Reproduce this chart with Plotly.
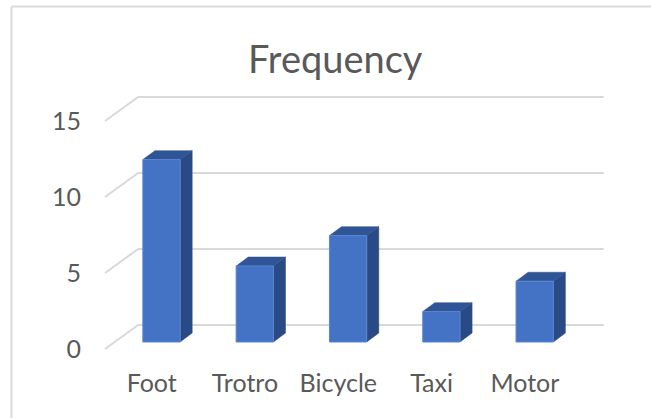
import plotly.graph_objects as go

# ---- data ----
categories = ["Foot", "Trotro", "Bicycle", "Taxi", "Motor"]
values = [12, 5, 7, 2, 4]
y_ticks = [0, 5, 10, 15]
y_tick_labels = ["0", "5", "10", "15"]
title_text = "Frequency"

# ---- pseudo-3D geometry (data units) ----
BAR_W = 0.4
BAR_DX, BAR_DY = 0.129, 0.59        # bar depth
FRONT_DX, FRONT_DY = -0.105, -0.46  # floor front edge relative to bar plane
BACK_DX, BACK_DY = 0.25, 1.12       # back wall relative to bar plane
LEFT_EDGE, RIGHT_EDGE = -0.5, 4.49

FRONT_C = "#4472C4"
TOP_C = "#2F5597"
SIDE_C = "#2A4A85"
GRID_C = "#D9D9D9"
TEXT_C = "#595959"
FONT = "Lato"

# pixel layout
W, H = 651, 418
ML, MR, MT, MB = 104, 47, 91, 67
PX_CAT, PX_UNIT = 93.3, 15.2
X0_PX, Y0_PX = 161.5, 342.0
pw, ph = W - ML - MR, H - MT - MB
x_range = [(ML - X0_PX) / PX_CAT, (ML + pw - X0_PX) / PX_CAT]
y_range = [(Y0_PX - (MT + ph)) / PX_UNIT, (Y0_PX - MT) / PX_UNIT]

fig = go.Figure()

# gridlines: left diagonals + back wall
gx, gy = [], []
for t in y_ticks:
    gx += [LEFT_EDGE + FRONT_DX, LEFT_EDGE + BACK_DX, RIGHT_EDGE + BACK_DX, None]
    gy += [t + FRONT_DY, t + BACK_DY, t + BACK_DY, None]
fig.add_trace(go.Scatter(x=gx, y=gy, mode="lines",
                         line=dict(color=GRID_C, width=2), hoverinfo="skip"))

xs = list(range(len(categories)))

# side faces
sx, sy = [], []
for c, v in zip(xs, values):
    r = c + BAR_W / 2
    sx += [r, r, r + BAR_DX, r + BAR_DX, r, None]
    sy += [0, v, v + BAR_DY, BAR_DY, 0, None]
fig.add_trace(go.Scatter(x=sx, y=sy, mode="lines", fill="toself",
                         fillcolor=SIDE_C, line=dict(color=SIDE_C, width=0.5),
                         hoverinfo="skip"))
# top faces
tx, ty = [], []
for c, v in zip(xs, values):
    l, r = c - BAR_W / 2, c + BAR_W / 2
    tx += [l, r, r + BAR_DX, l + BAR_DX, l, None]
    ty += [v, v, v + BAR_DY, v + BAR_DY, v, None]
fig.add_trace(go.Scatter(x=tx, y=ty, mode="lines", fill="toself",
                         fillcolor=TOP_C, line=dict(color=TOP_C, width=0.5),
                         hoverinfo="skip"))
# front faces (drawn as filled shapes so they sit above the gridlines)
fx, fy = [], []
for c, v in zip(xs, values):
    l, r = c - BAR_W / 2, c + BAR_W / 2
    fx += [l, r, r, l, l, None]
    fy += [0, 0, v, v, 0, None]
fig.add_trace(go.Scatter(x=fx, y=fy, mode="lines", fill="toself",
                         fillcolor=FRONT_C, line=dict(color="#5B86D0", width=1),
                         hoverinfo="skip"))

# frame (chart area border, partially visible)
def px_to_paper_x(px):
    return (px - ML) / pw

def px_to_paper_y(py):
    return (MT + ph - py) / ph

fig.add_shape(type="line", xref="paper", yref="paper",
              x0=px_to_paper_x(11.5), x1=px_to_paper_x(11.5),
              y0=px_to_paper_y(6.5), y1=px_to_paper_y(H + 2),
              line=dict(color=GRID_C, width=2))
fig.add_shape(type="line", xref="paper", yref="paper",
              x0=px_to_paper_x(11.5), x1=px_to_paper_x(W + 2),
              y0=px_to_paper_y(6.5), y1=px_to_paper_y(6.5),
              line=dict(color=GRID_C, width=2))

fig.add_annotation(text=title_text, xref="paper", yref="paper",
                   x=px_to_paper_x(335.5), y=px_to_paper_y(58),
                   xanchor="center", yanchor="middle", showarrow=False,
                   font=dict(family=FONT, size=38, color=TEXT_C))

fig.update_layout(
    width=W, height=H, margin=dict(l=ML, r=MR, t=MT, b=MB),
    paper_bgcolor="white", plot_bgcolor="white", showlegend=False,
    xaxis=dict(range=x_range, tickvals=[c + FRONT_DX for c in xs],
               ticktext=categories, showgrid=False, zeroline=False,
               showline=False, ticks="", ticklabelstandoff=15,
               tickfont=dict(family=FONT, size=25, color=TEXT_C)),
    yaxis=dict(range=y_range, tickvals=[t + FRONT_DY for t in y_ticks],
               ticktext=y_tick_labels, showgrid=False, zeroline=False,
               showline=False, ticks="", ticklabelstandoff=22,
               tickfont=dict(family=FONT, size=25, color=TEXT_C)),
)

fig.write_html("out.html")
